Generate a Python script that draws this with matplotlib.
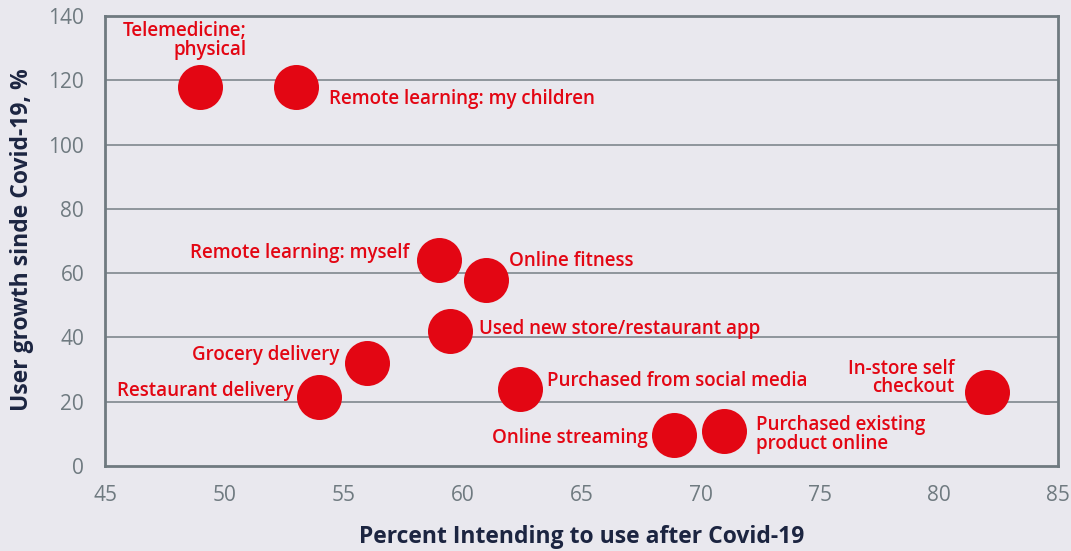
import matplotlib
matplotlib.use("Agg")
import matplotlib.pyplot as plt

labels = ["Telemedicine;\nphysical", "Remote learning: my children", "Remote learning: myself",
          "Online fitness", "Used new store/restaurant app", "Grocery delivery",
          "Restaurant delivery", "Purchased from social media", "Online streaming",
          "Purchased existing\nproduct online", "In-store self\ncheckout"]
x_vals = [49, 53, 59, 61, 59.5, 56, 54, 62.4, 68.9, 71, 82]
y_vals = [118, 118, 64, 58, 42, 32, 21.5, 24, 9.5, 11, 23]

# label offsets in pixels (dx, dy), alignment
offsets = [(46, 46, 'right'), (33, -12, 'left'), (-29, 7, 'right'), (23, 19, 'left'),
           (29, 2, 'left'), (-28, 8, 'right'), (-26, 6, 'right'), (27, 8, 'left'),
           (-27, -3, 'right'), (32, -4, 'left'), (-32, 14, 'right')]

BG = "#e9e8ee"
RED = "#e30613"
NAVY = "#1c2541"
GRAY = "#6f7a80"

plt.rcParams['font.family'] = ['Open Sans', 'DejaVu Sans']
fig = plt.figure(figsize=(10.71, 5.51), dpi=100, facecolor=BG)
ax = fig.add_axes([105/1071, 1-466/551, (1058-105)/1071, (466-16)/551])
ax.set_facecolor(BG)

ax.set_xlim(45, 85)
ax.set_ylim(0, 140)
ax.set_xticks(range(45, 86, 5))
ax.set_yticks(range(0, 141, 20))
for yv in range(20, 140, 20):
    ax.axhline(yv, color="#7f878d", lw=1.2, zorder=1)

ax.scatter(x_vals, y_vals, s=1050, color=RED, zorder=3, linewidths=0)

for lab, xv, yv, (dx, dy, ha) in zip(labels, x_vals, y_vals, offsets):
    ax.annotate(lab, (xv, yv), xytext=(dx, dy), textcoords='offset pixels',
                ha=ha, va='center', multialignment=ha,
                color=RED, fontsize=13.5, fontweight='semibold', linespacing=0.9, zorder=4)

for sp in ax.spines.values():
    sp.set_color(GRAY)
    sp.set_linewidth(2)

ax.tick_params(axis='both', length=0, colors=GRAY, labelsize=15)
ax.tick_params(axis='x', pad=14)
ax.tick_params(axis='y', pad=15)
ax.set_xlabel("Percent Intending to use after Covid-19", fontsize=16.5, fontweight='bold',
              color=NAVY, va='center')
ax.set_ylabel("User growth sinde Covid-19, %", fontsize=16.5, fontweight='bold',
              color=NAVY, va='center')
ax.xaxis.set_label_coords((582-105)/953, (466-537)/450)
ax.yaxis.set_label_coords((22-105)/953, (466-240)/450)

fig.savefig("out.png", dpi=100, facecolor=BG)
